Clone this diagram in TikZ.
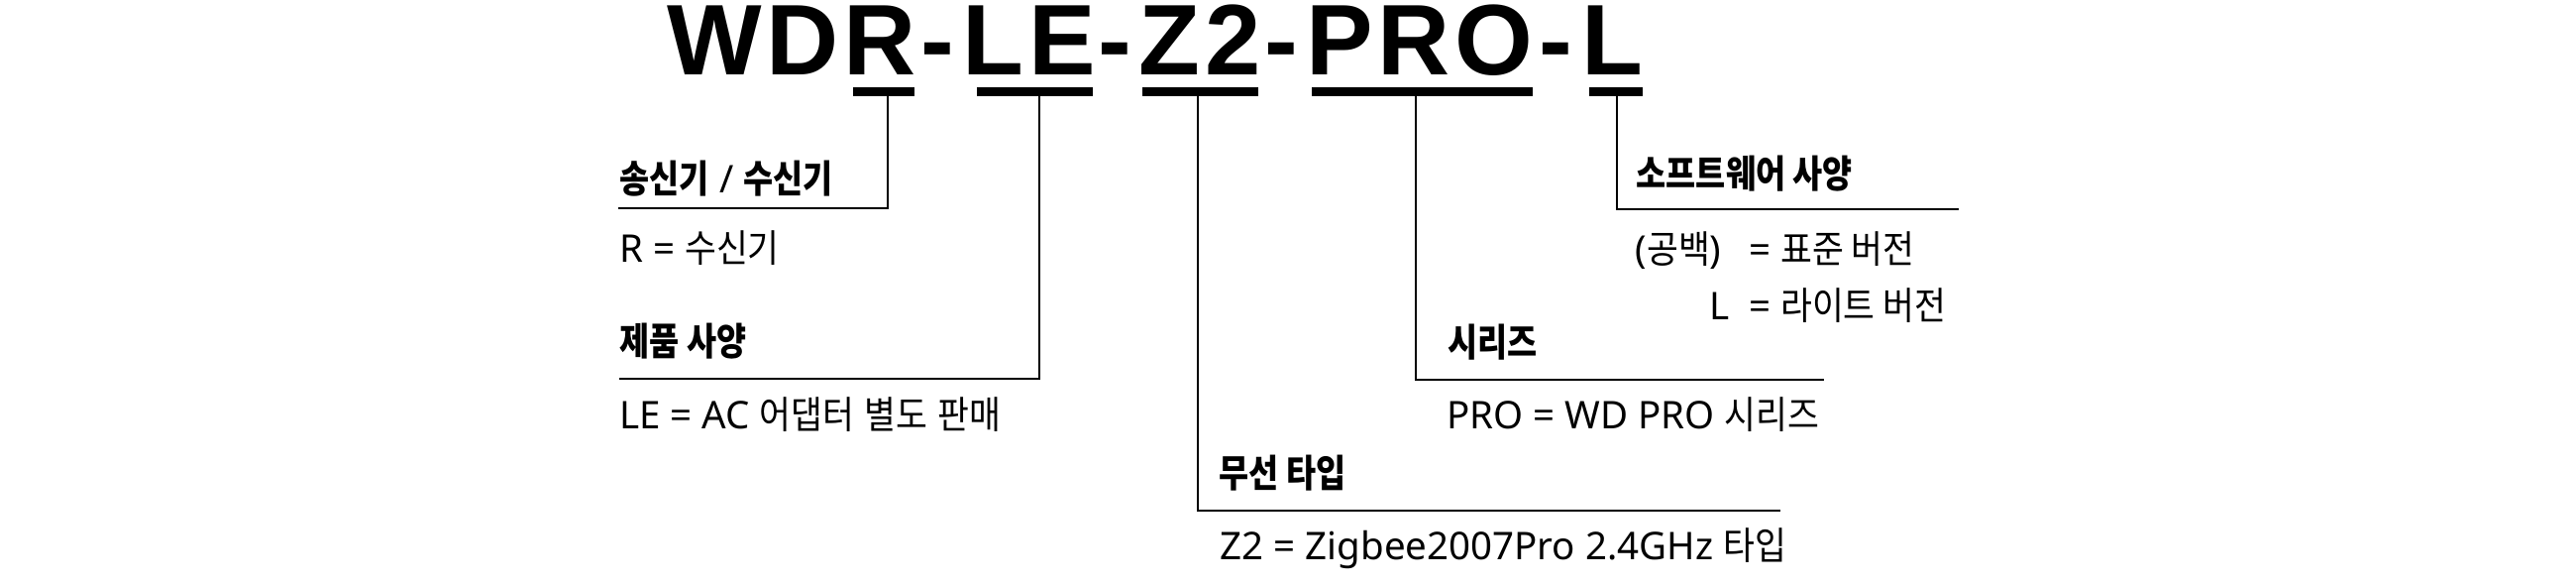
\documentclass[tikz,border=0pt]{standalone}
\usepackage{fontspec}
\usepackage{tikz}
\usetikzlibrary{positioning}

\setmainfont{Noto Sans}
\newfontfamily\titlefont[LetterSpace=4.5]{Liberation Sans}
\newfontfamily\kr[FakeStretch=0.9, BoldFeatures={FakeStretch=0.85}]{Noto Sans CJK KR}

\begin{document}
\begin{tikzpicture}[
    every node/.style={inner sep=0pt, anchor=base west, font=\fontsize{10.95}{13}\selectfont},
    codepart/.style={font=\titlefont\bfseries\fontsize{28.8}{30}\selectfont},
    headtext/.style={font=\kr\bfseries\fontsize{10.95}{13}\selectfont},
    bar/.style={line width=2.6pt},
    lead/.style={line width=0.6pt}
]

\useasboundingbox (0,0) rectangle (26,-5.9);

% Model code, one node per part
\node[codepart] (wd)  at (6.73,-0.76)  {WD};
\node[codepart] (r)   at (8.51,-0.76)  {R};
\node[codepart] (d1)  at (9.29,-0.76)  {-};
\node[codepart] (le)  at (9.71,-0.76)  {LE};
\node[codepart] (d2)  at (11.08,-0.76) {-};
\node[codepart] (z)   at (11.49,-0.76) {Z2};
\node[codepart] (d3)  at (12.76,-0.76) {-};
\node[codepart] (pro) at (13.18,-0.76) {PRO};
\node[codepart] (d4)  at (15.53,-0.76) {-};
\node[codepart] (l)   at (15.96,-0.76) {L};

% Underlines and the points the leads start from
\foreach \a/\b/\c/\n in {8.61/9.23/8.96/r, 9.86/11.03/10.49/le, 11.53/12.70/12.09/z,
                          13.24/15.47/14.29/pro, 16.04/16.58/16.32/l} {
    \draw[bar] (\a,-0.925) -- (\b,-0.925);
    \coordinate (bar-\n) at (\c,-0.925);
}

% Free ends of the leads
\coordinate (end-r)   at (6.24,-2.10);
\coordinate (end-le)  at (6.25,-3.82);
\coordinate (end-z)   at (17.97,-5.15);
\coordinate (end-pro) at (18.41,-3.83);
\coordinate (end-l)   at (19.77,-2.11);

\foreach \n in {r, le, z, pro, l}
    \draw[lead] (bar-\n) |- (end-\n);

% Transmitter / receiver
\node[headtext] (head-r) at (6.25,-1.95) {송신기{\rmfamily\bfseries\ /\ }수신기};
\node (desc-r) at (6.245,-2.65) {R = {\kr 수신기}};

% Product spec
\node[headtext] (head-le) at (6.25,-3.59) {제품 사양};
\node (desc-le) at (6.245,-4.33) {LE = AC {\kr 어댑터} {\kr 별도} {\kr 판매}};

% Wireless type
\node[headtext] (head-z) at (12.30,-4.92) {무선 타입};
\node (desc-z) at (12.31,-5.65) {Z2 = Zigbee2007Pro 2.4GHz {\kr 타입}};

% Series
\node[headtext] (head-pro) at (14.61,-3.60) {시리즈};
\node (desc-pro) at (14.595,-4.33) {PRO = WD PRO {\kr 시리즈}};

% Software spec
\node[headtext] (head-l) at (16.51,-1.90) {소프트웨어 사양};
\node (blank) at (16.50,-2.66) {({\kr 공백})};
\node (std)   at (17.645,-2.66) {= {\kr 표준 버전}};
\node (lite-key) at (17.245,-3.23) {L};
\node (lite)  at (17.645,-3.23) {= {\kr 라이트 버전}};

\end{tikzpicture}
\end{document}
